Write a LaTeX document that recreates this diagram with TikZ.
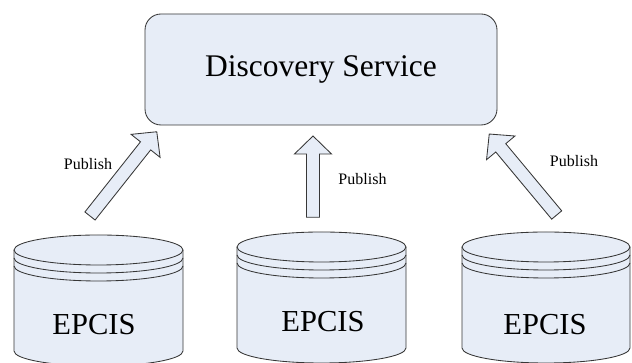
\documentclass[tikz,border=0pt]{standalone}
\usepackage{fontspec}
\setmainfont{Liberation Serif}
\definecolor{fillc}{RGB}{231,237,247}
\definecolor{linec}{RGB}{55,55,55}
\tikzset{
  outl/.style={draw=linec, line width=0.85pt},
  shapeline/.style={outl, fill=fillc},
  dsbox/.style={shapeline, rounded corners=16pt, minimum width=352pt, minimum height=111pt, inner sep=0pt, font=\fontsize{31.5}{36}\selectfont},
  dblabel/.style={anchor=base, font=\fontsize{30.5}{36}\selectfont, inner sep=0pt},
  publabel/.style={anchor=base, font=\fontsize{16}{19}\selectfont, inner sep=0pt},
  blockarrow/.style={shapeline, line join=miter},
}
\newcommand{\dbcyl}[5]{% name, cx, Yc, Yb, rx
  \fill[fillc] (#2-#5,#3) -- (#2-#5,#4) arc (180:360:#5pt and 15pt) -- (#2+#5,#3) arc (0:180:#5pt and 15pt) -- cycle;
  \draw[outl] (#2-#5,#3) -- (#2-#5,#4) arc (180:360:#5pt and 15pt) -- (#2+#5,#3);
  \draw[outl] (#2,#3) ellipse (#5pt and 15pt);
  \draw[outl] (#2-#5,#3-8) arc (180:360:#5pt and 15pt);
  \draw[outl] (#2-#5,#3-16) arc (180:360:#5pt and 15pt);
  \coordinate (#1) at (#2,#3);
}
\begin{document}
\begin{tikzpicture}[x=1pt,y=1pt]
\useasboundingbox (0,0) rectangle (632,363);
\clip (0,0) rectangle (632,363);
\fill[white] (0,0) rectangle (632,363);

% Discovery Service box
\node[dsbox] (ds) at (321,293.5) {Discovery Service};

% databases
\dbcyl{cylL}{98.5}{113}{12}{84.5}
\dbcyl{cylM}{321.5}{116}{15}{84.5}
\dbcyl{cylR}{546}{116}{15}{84}
\node[dblabel] (epcisL) at (94,28) {EPCIS};
\node[dblabel] (epcisM) at (323,31) {EPCIS};
\node[dblabel] (epcisR) at (545,28) {EPCIS};

% block arrows
\coordinate (tailL) at (90,147);
\coordinate (tailM) at (313,145.7);
\coordinate (tailR) at (556.7,148);
\draw[blockarrow, shift={(tailL)}, rotate=51.6]
  (0,-6.5) -- (89.5,-6.5) -- (89.5,-18.5) -- (107.5,0) -- (89.5,18.5) -- (89.5,6.5) -- (0,6.5) -- cycle;
\draw[blockarrow, shift={(tailM)}, rotate=90]
  (0,-6.5) -- (63.3,-6.5) -- (63.3,-18.5) -- (81.3,0) -- (63.3,18.5) -- (63.3,6.5) -- (0,6.5) -- cycle;
\draw[blockarrow, shift={(tailR)}, rotate=129.8]
  (0,-6.5) -- (87.4,-6.5) -- (87.4,-18.5) -- (105.4,0) -- (87.4,18.5) -- (87.4,6.5) -- (0,6.5) -- cycle;

% labels
\node[publabel] (pubL) at (88,193) {Publish};
\node[publabel] (pubM) at (362.5,178) {Publish};
\node[publabel] (pubR) at (574,196) {Publish};
\end{tikzpicture}
\end{document}
